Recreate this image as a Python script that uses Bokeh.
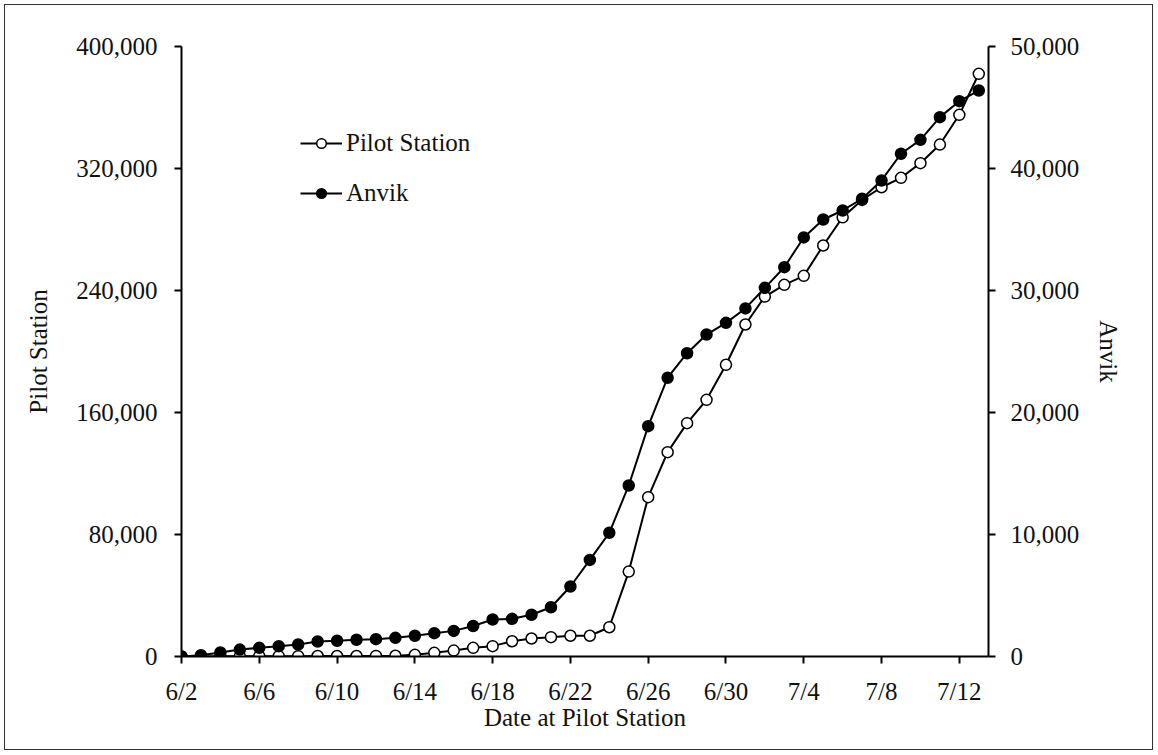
from bokeh.plotting import figure
from bokeh.models import Range1d, LinearAxis, FixedTicker, NumeralTickFormatter
from bokeh.embed import file_html
from bokeh.resources import INLINE

dates = ["6/2", "6/3", "6/4", "6/5", "6/6", "6/7", "6/8", "6/9", "6/10", "6/11",
         "6/12", "6/13", "6/14", "6/15", "6/16", "6/17", "6/18", "6/19", "6/20", "6/21",
         "6/22", "6/23", "6/24", "6/25", "6/26", "6/27", "6/28", "6/29", "6/30",
         "7/1", "7/2", "7/3", "7/4", "7/5", "7/6", "7/7", "7/8", "7/9", "7/10",
         "7/11", "7/12", "7/13"]

pilot_station = [0, 0, 100, 100, 200, 200, 200, 300, 300, 300, 400, 500,
                 1100, 2400, 3900, 5700, 6800, 10000, 11800, 12700, 13600, 13600, 19200,
                 55700, 104500, 134000, 153000, 168300, 191300,
                 217700, 236000, 243700, 249600, 269500, 288000, 299400, 307700,
                 313900, 323500, 335700, 355200, 382100]

anvik = [0, 110, 330, 570, 710, 850, 980, 1230, 1290, 1370, 1420, 1530,
         1700, 1910, 2100, 2500, 3030, 3090, 3420, 4040, 5740, 7920, 10140,
         14020, 18880, 22850, 24860, 26390, 27350,
         28530, 30220, 31910, 34350, 35820, 36560, 37520, 39020, 41210, 42350,
         44210, 45520, 46390]

x_tick_labels = ["6/2", "6/6", "6/10", "6/14", "6/18", "6/22", "6/26", "6/30",
                 "7/4", "7/8", "7/12"]
left_ticks = [0, 80000, 160000, 240000, 320000, 400000]
right_ticks = [0, 10000, 20000, 30000, 40000, 50000]

FONT = "Liberation Serif"
FS = "25px"

x = list(range(len(dates)))
tick_pos = [dates.index(t) for t in x_tick_labels]

p = figure(frame_width=807, frame_height=610,
           min_border_left=176, min_border_right=164,
           min_border_top=41, min_border_bottom=93,
           x_range=Range1d(0, 41.5), y_range=Range1d(0, 400000),
           output_backend="svg", toolbar_location=None,
           styles={"border": "1px solid #333", "margin-left": "4px", "margin-top": "4px"})
p.extra_y_ranges = {"anvik": Range1d(0, 50000)}
p.grid.visible = False
p.outline_line_color = None
p.background_fill_color = "white"
p.border_fill_color = "white"


def style_axis(ax, standoff, label_standoff):
    ax.axis_line_color = "black"
    ax.axis_line_width = 2
    ax.major_tick_line_color = "black"
    ax.major_tick_line_width = 2
    ax.major_tick_out = 7
    ax.major_tick_in = 0
    ax.minor_tick_line_color = None
    ax.major_label_text_font = FONT
    ax.major_label_text_font_size = FS
    ax.major_label_text_color = "#111111"
    ax.major_label_standoff = standoff
    ax.axis_label_text_font = FONT
    ax.axis_label_text_font_size = FS
    ax.axis_label_text_font_style = "normal"
    ax.axis_label_text_color = "#111111"
    ax.axis_label_standoff = label_standoff


xa = p.xaxis[0]
xa.ticker = FixedTicker(ticks=tick_pos)
xa.major_label_overrides = {pos: lab for pos, lab in zip(tick_pos, x_tick_labels)}
xa.axis_label = "Date at Pilot Station"
style_axis(xa, 14, -4)

ya = p.yaxis[0]
ya.ticker = FixedTicker(ticks=left_ticks)
ya.formatter = NumeralTickFormatter(format="0,0")
ya.axis_label = "Pilot Station"
style_axis(ya, 17, 21)

ra = LinearAxis(y_range_name="anvik", axis_label="Anvik")
ra.ticker = FixedTicker(ticks=right_ticks)
ra.formatter = NumeralTickFormatter(format="0,0")
style_axis(ra, 15, 13)
p.add_layout(ra, "right")

p.line(x, pilot_station, line_color="black", line_width=2, legend_label="Pilot Station")
p.scatter(x, pilot_station, size=11, fill_color="white", line_color="black",
          line_width=1.5, legend_label="Pilot Station")
p.line(x, anvik, line_color="black", line_width=2, y_range_name="anvik", legend_label="Anvik")
p.scatter(x, anvik, size=11, fill_color="black", line_color="black",
          line_width=1.5, y_range_name="anvik", legend_label="Anvik")

lg = p.legend[0]
lg.location = (119, 449)
lg.padding = 0
lg.margin = 0
lg.spacing = 22
lg.glyph_width = 42
lg.glyph_height = 24
lg.label_height = 24
lg.label_standoff = 4
lg.label_text_font = FONT
lg.label_text_font_size = FS
lg.label_text_color = "#111111"
lg.border_line_color = None
lg.background_fill_alpha = 0

open("out.html", "w").write(file_html(p, INLINE))
